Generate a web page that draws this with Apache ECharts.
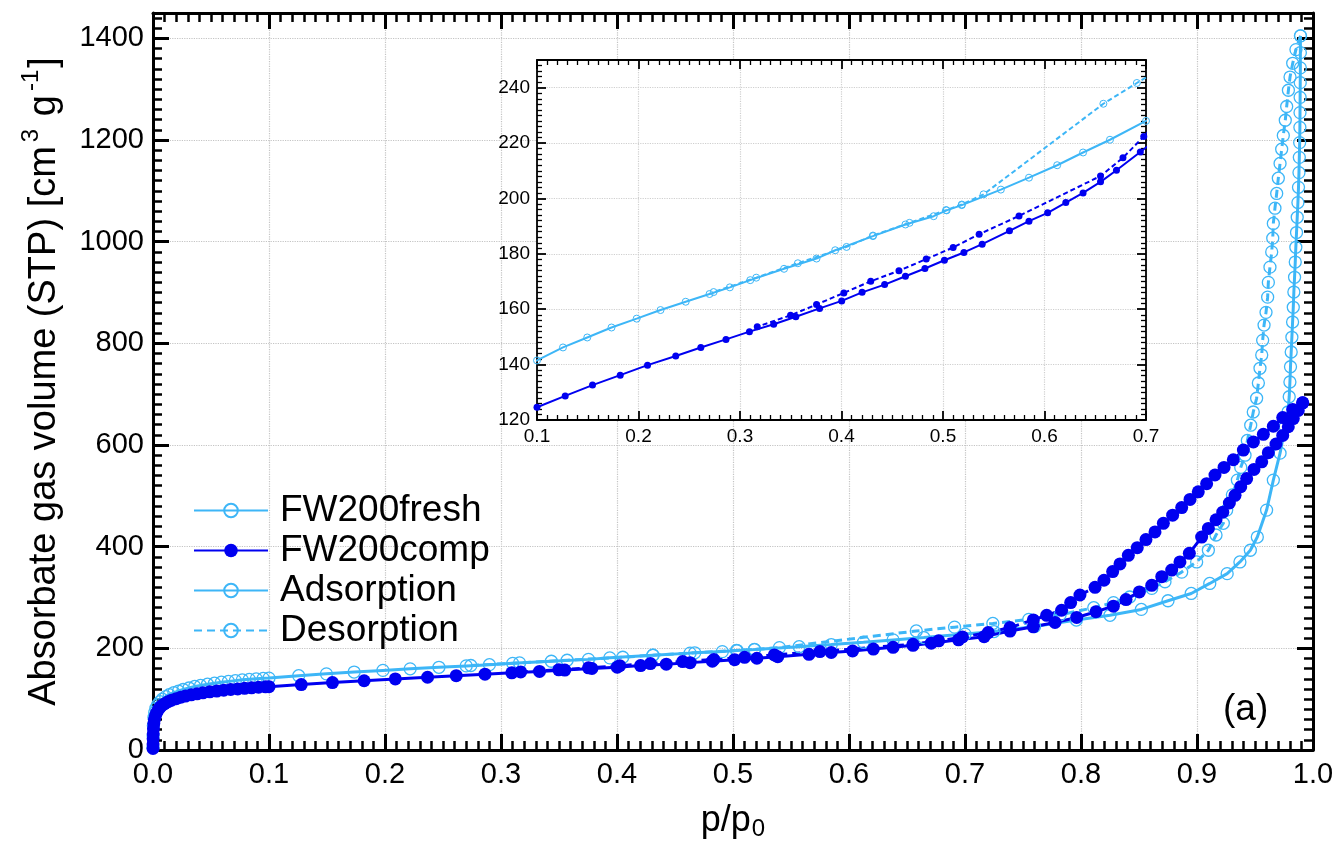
<!DOCTYPE html>
<html><head><meta charset="utf-8">
<script src="https://cdn.jsdelivr.net/npm/echarts@6/dist/echarts.min.js"></script>
<style>html,body{margin:0;padding:0;background:#fff}#c{width:1340px;height:854px}</style>
</head><body><div id="c"></div>
<script>
// ---- data: [p/p0, volume] ----
const freshAds = [[0.00002,5],[0.0001,28],[0.0003,48],[0.0008,64],[0.0015,74],[0.0025,82],[0.004,89],[0.006,95],[0.008,100],[0.011,105],[0.014,109],[0.018,113],[0.022,116],[0.026,119],[0.031,122],[0.036,125],[0.041,127],[0.047,129.5],[0.053,131.5],[0.059,133.5],[0.065,135],[0.071,136.5],[0.077,138],[0.083,139],[0.089,140],[0.095,141],[0.1,141.5],
[0.1256,146.2],[0.1495,149.8],[0.1734,153.4],[0.1982,156.6],[0.2217,159.7],[0.2465,162.7],[0.27,165.5],[0.29,167.9],[0.3101,170.5],[0.3434,174.6],[0.3754,178.3],[0.3938,181.3],[0.431,186.4],[0.463,190.6],[0.4908,193.6],[0.5036,195.7],[0.5185,197.6],[0.557,203.2],[0.5847,207.5],[0.6125,212],[0.638,216.6],[0.6645,221.2],[0.7,228],[0.725,233],[0.76,243],[0.796,255.6],[0.825,265],[0.852,276.6],[0.875,293.6],[0.895,308],[0.911,327.7],[0.926,347],[0.937,370],[0.946,393],[0.952,419],[0.96,472],[0.9658,531],[0.9716,584],[0.976,636],[0.9784,665],[0.9795,695],[0.9801,724],[0.9806,754],[0.9812,783],[0.9818,812],[0.9824,842],[0.983,871],[0.9835,901],[0.9841,930],[0.9847,960],[0.9852,989],[0.9858,1018],[0.9864,1048],[0.987,1077],[0.9875,1107],[0.9879,1136],[0.9882,1166],[0.9885,1195],[0.9887,1225],[0.9888,1254],[0.9889,1284],[0.989,1313],[0.9891,1342],[0.9891,1372],[0.9892,1405]];
const freshDes = [[0.9892,1405],[0.9853,1378],[0.9825,1351],[0.9802,1324],[0.9788,1298],[0.9773,1266],[0.9761,1239],[0.9744,1209],[0.973,1182],[0.9716,1154],[0.9701,1125],[0.9687,1095],[0.9672,1066],[0.9658,1036],[0.9653,1007],[0.9644,980],[0.9629,950],[0.9615,920],[0.9609,891],[0.9595,861],[0.9578,836],[0.9566,806],[0.9558,777],[0.9543,751],[0.9529,722],[0.9514,692],[0.9485,665],[0.9463,639],[0.9434,609],[0.9414,580],[0.9377,556],[0.9348,531],[0.9305,502],[0.9256,472],[0.9227,446],[0.9164,423],[0.9098,393],[0.8997,370],[0.8868,350],[0.8724,331],[0.861,318],[0.842,301],[0.828,290],[0.811,280],[0.782,266],[0.755,257],[0.724,249],[0.691,241.7],[0.658,234.2],[0.54,201.5],[0.5185,197.8],[0.503,195.8],[0.467,191.2],[0.431,186.6],[0.405,182.5],[0.357,176.6],[0.316,171.4],[0.274,166.2]];
const compAds = [[0.00002,3],[0.00005,12],[0.0001,22],[0.0002,32],[0.0004,42],[0.0007,52],[0.0012,60],[0.002,67],[0.003,73],[0.0045,79],[0.006,84],[0.008,88],[0.01,91],[0.013,95],[0.016,98],[0.02,101],[0.024,104],[0.028,106],[0.033,108.5],[0.038,110.5],[0.043,112.5],[0.049,114.5],[0.055,116],[0.061,117.5],[0.067,119],[0.073,120.2],[0.079,121.3],[0.085,122.4],[0.091,123.4],[0.097,124.2],[0.1,124.6],
[0.1278,128.7],[0.1547,132.6],[0.182,136.2],[0.2089,139.8],[0.2367,143.1],[0.2614,146.2],[0.2862,149.1],[0.3093,151.9],[0.3332,154.6],[0.355,157.3],[0.3784,160.3],[0.4002,163],[0.4203,166.1],[0.4425,168.9],[0.463,171.9],[0.4822,174.7],[0.5014,177.7],[0.5206,180.5],[0.5386,183.5],[0.5655,188.3],[0.5847,191.8],[0.6031,194.8],[0.621,198.5],[0.638,202],[0.6552,206],[0.6709,210.2],[0.6944,216.8],[0.7165,223],[0.7388,234],[0.7589,242.4],[0.7776,251],[0.7963,260.8],[0.8129,272],[0.8279,283],[0.8388,296],[0.8503,311],[0.861,324],[0.8696,341],[0.8782,354],[0.8853,370],[0.8934,387],[0.904,419],[0.9098,436],[0.9164,453],[0.9222,468],[0.9279,486],[0.9328,501],[0.9377,518],[0.9428,534],[0.9491,552],[0.9558,567],[0.9615,585],[0.9681,602],[0.9739,619],[0.9787,636],[0.983,652],[0.9873,668],[0.9911,683]];
const compDes = [[0.9911,683],[0.9825,670],[0.9739,654],[0.9658,637],[0.9572,621],[0.9486,606],[0.94,590],[0.9313,571],[0.9233,556],[0.9155,541],[0.9083,524],[0.9011,508],[0.894,493],[0.8868,477],[0.879,462],[0.871,446],[0.8638,429],[0.856,414],[0.8485,398],[0.8408,383],[0.8336,366],[0.8273,351],[0.8198,334],[0.8121,320],[0.7991,305],[0.7911,290],[0.7833,275],[0.7704,265],[0.7589,256],[0.7388,241],[0.72,231],[0.6978,222.4],[0.6773,214.7],[0.6552,208.1],[0.5749,193.7],[0.5356,187.1],[0.51,182.3],[0.4835,178.1],[0.4566,173.9],[0.4288,170.1],[0.4023,165.9],[0.3754,161.7],[0.3498,157.8],[0.317,153.7]];
const legendNames = ['FW200fresh','FW200comp','Adsorption','Desorption'];
const mainX = [0, 1.0, 0.1];      // min, max, tick step
const mainY = [0, 1450, 200];
const insetX = [0.1, 0.7, 0.1];
const insetY = [120, 250, 20];

const LB = '#3db6f7', DB = '#0000f0', FONT = '"Liberation Sans", Arial, sans-serif';
const chart = echarts.init(document.getElementById('c'));

function axis(kind, grid, pos, r, o) {
  const main = grid === 0;
  const lw = main ? 3 : 1.8;
  const a = {
    type: 'value', gridIndex: grid, position: pos, min: r[0], max: r[1], interval: r[2],
    axisLine: {show: true, onZero: false, lineStyle: {color: '#000', width: lw}},
    axisTick: {show: true, inside: true, length: main ? 16 : 9, lineStyle: {color: '#000', width: lw}},
    minorTick: {show: true, splitNumber: 10, length: main ? 9 : 5, lineStyle: {color: '#000', width: main ? 2.5 : 1.3}},
    axisLabel: {show: false},
    splitLine: {show: false},
    z: main ? 0 : 11
  };
  return Object.assign(a, o || {});
}
const lbl = (size, margin, fmt) => ({show: true, fontSize: size, color: '#000', fontFamily: FONT, margin: margin, formatter: fmt});
const split = (c) => ({show: true, lineStyle: {color: c, type: 'dotted', width: 1.2}});

const xAxis = [
  axis('x', 0, 'bottom', mainX, {
    axisLabel: lbl(29, 10, v => v.toFixed(1)), splitLine: split('#c4c4c4'),
    name: 'p/p{sub|0}', nameLocation: 'middle', nameGap: 50,
    nameTextStyle: {fontSize: 36, fontFamily: FONT, color: '#000', lineHeight: 42,
      rich: {sub: {fontSize: 24, fontFamily: FONT, color: '#000', verticalAlign: 'top', padding: [17, 0, 0, 1]}}}
  }),
  axis('x', 0, 'top', mainX),
  axis('x', 1, 'bottom', insetX, {axisLabel: lbl(19, 7, v => v.toFixed(1)), splitLine: split('#cfcfcf')}),
  axis('x', 1, 'top', insetX)
];
const yAxis = [
  axis('y', 0, 'left', mainY, {
    axisLabel: lbl(29, 9, v => (v % 200 === 0 ? String(v) : '')), splitLine: split('#c4c4c4'),
    name: 'Absorbate gas volume (STP) [cm{sup|3} g{sup|-1}]', nameLocation: 'middle', nameGap: 86,
    nameTextStyle: {fontSize: 38, fontFamily: FONT, color: '#000', lineHeight: 44,
      rich: {sup: {fontSize: 24, fontFamily: FONT, color: '#000', verticalAlign: 'bottom', padding: [0, 2, 24, 4]}}}
  }),
  axis('y', 0, 'right', mainY),
  axis('y', 1, 'left', insetY, {axisLabel: lbl(19, 7, v => (v % 20 === 0 ? String(v) : '')), splitLine: split('#cfcfcf')}),
  axis('y', 1, 'right', insetY)
];

function ser(name, data, filled, dashed, grid) {
  const main = grid === 0;
  const col = filled ? DB : LB;
  return {
    name: name, type: 'line', xAxisIndex: grid * 2, yAxisIndex: grid * 2, data: data,
    symbol: 'circle', symbolSize: main ? (filled ? 13 : 12) : 7,
    itemStyle: filled ? {color: DB} : {color: 'rgba(255,255,255,0)', borderColor: LB, borderWidth: main ? 1.3 : 1},
    lineStyle: {color: col, width: main ? 3 : 2, type: dashed ? (main ? [8, 5] : [5, 3]) : 'solid'},
    emphasis: {disabled: true}, clip: true, z: main ? 3 : 12
  };
}

chart.setOption({
  animation: false,
  backgroundColor: '#fff',
  title: {text: '(a)', left: 1218, top: 686, textStyle: {fontSize: 37, fontWeight: 'normal', fontFamily: FONT, color: '#000'}},
  legend: {
    orient: 'vertical', left: 188, top: 487, itemWidth: 74, itemHeight: 17, itemGap: 3,
    data: legendNames,
    textStyle: {fontSize: 37, fontFamily: FONT, color: '#000', lineHeight: 37, padding: [0, 0, 0, 7]}
  },
  grid: [
    {left: 153, right: 27, top: 13, bottom: 104},
    {left: 537, right: 194, top: 60, bottom: 434, show: true, backgroundColor: '#fff', borderWidth: 0, z: 10}
  ],
  xAxis: xAxis,
  yAxis: yAxis,
  series: [
    ser('FW200fresh', freshAds, false, false, 0),
    ser('Desorption', freshDes, false, true, 0),
    ser('FW200comp', compAds, true, false, 0),
    ser('FW200comp desorption', compDes, true, true, 0),
    ser('Adsorption', [], false, false, 0),
    ser('inset fresh ads', freshAds, false, false, 1),
    ser('inset fresh des', freshDes, false, true, 1),
    ser('inset comp ads', compAds, true, false, 1),
    ser('inset comp des', compDes, true, true, 1)
  ]
});
</script></body></html>
